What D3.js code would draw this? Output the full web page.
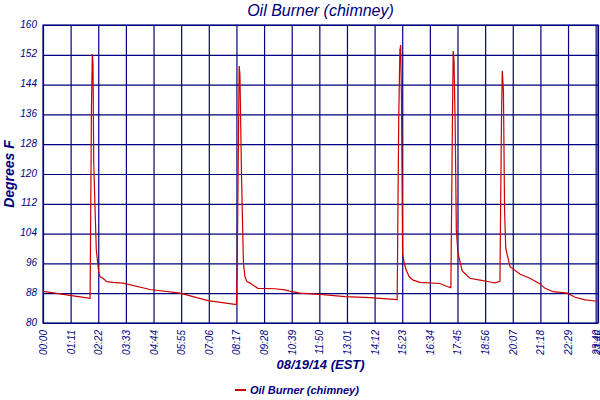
<!DOCTYPE html>
<html>
<head>
<meta charset="utf-8">
<script src="https://d3js.org/d3.v7.min.js"></script>
<style>
  body { margin: 0; background: #fff; }
  text { font-family: "Liberation Sans", Arial, sans-serif; fill: #000080; font-style: italic; }
</style>
</head>
<body>
<div id="chart"></div>
<script>
// readings: minutes after midnight, degrees F
const minutes = [0, 18, 44, 69, 95, 121, 123, 124.5, 126.7, 128.5, 130.3, 133.6, 137, 140.6, 143.1, 146.5,
  154, 164, 180, 206, 275, 352, 424, 493, 497, 499, 504, 506, 510, 515, 519, 524, 532, 552, 596,
  622, 640, 660, 712, 776, 840, 892, 910, 914, 917, 919, 921, 924, 928, 933, 941, 951, 969, 1020,
  1038, 1048, 1052, 1054, 1056, 1059, 1062, 1066, 1077, 1097, 1123, 1149, 1161, 1174, 1178, 1180,
  1183, 1186, 1189, 1200, 1226, 1251, 1277, 1290, 1311, 1347, 1367, 1393, 1418, 1426];
const temps = [88.5, 88.2, 87.8, 87.4, 87.0, 86.6, 115.5, 138, 152.2, 149.6, 123.3, 111.2, 99.6, 96.1, 93.8, 92.4,
  92.0, 91.1, 90.9, 90.7, 89.0, 88.0, 86.0, 85.0, 85.0, 95, 149, 146.8, 120, 96, 92.4, 91.1, 90.7, 89.3, 89.2,
  88.9, 88.4, 88.0, 87.7, 87.1, 86.8, 86.4, 86.3, 135, 153.3, 154.6, 141, 98.7, 96.1, 94.2, 92.4, 91.5, 90.9, 90.6,
  89.8, 89.5, 135, 153, 150.6, 133.7, 105, 99, 94, 92, 91.5, 91.0, 90.8, 91.2, 134.7, 147.7,
  142.5, 110, 100, 95.1, 93.1, 92, 90.5, 89.3, 88.4, 88, 86.9, 86.2, 85.9, 85.9];

const xTicks = [0, 71, 142, 213, 284, 355, 426, 497, 568, 639, 710, 781, 852, 923, 994, 1065, 1136, 1207, 1278, 1349, 1420, 1426];
const yTicks = [80, 88, 96, 104, 112, 120, 128, 136, 144, 152, 160];

const seriesName = "Oil Burner (chimney)";
const xTitle = "08/19/14 (EST)";
const yTitle = "Degrees F";

const width = 600,
    height = 400,
    margin = ({ top: 25, right: 2, bottom: 77, left: 43 });

const navy = "#000080";

const svg = d3.select("#chart")
    .append("svg")
    .attr("width", width)
    .attr("height", height)
    .attr("viewBox", [0, 0, width, height]);

const data = minutes.map((m, i) => ({ m: m, v: temps[i] }));

let x = d3.scaleLinear()
    .domain([0, 1426])
    .range([margin.left, width - margin.right]);

let y = d3.scaleLinear()
    .domain([80, 160])
    .range([height - margin.bottom, margin.top]);

const hhmm = m => String(Math.floor(m / 60)).padStart(2, "0") + ":" + String(m % 60).padStart(2, "0");

// y grid + labels
const yAxis = svg.append("g")
    .attr("transform", `translate(${margin.left},0)`)
    .call(d3.axisLeft(y).tickValues(yTicks).tickSize(-(width - margin.left - margin.right)).tickPadding(6));
yAxis.select(".domain").remove();
yAxis.selectAll("line").attr("stroke", navy).attr("stroke-width", 1.2);
yAxis.selectAll("text")
    .attr("dy", "0.2em")
    .style("font-size", "10px")
    .attr("fill", navy);

// x grid + rotated labels
const xAxis = svg.append("g")
    .attr("transform", `translate(0,${height - margin.bottom})`)
    .call(d3.axisBottom(x).tickValues(xTicks).tickSize(-(height - margin.top - margin.bottom)).tickFormat(hhmm));
xAxis.select(".domain").remove();
xAxis.selectAll("line").attr("stroke", navy).attr("stroke-width", 1.2);
xAxis.selectAll("text")
    .attr("y", 0)
    .attr("x", -7)
    .attr("dy", "0.35em")
    .attr("transform", "rotate(-90)")
    .attr("text-anchor", "end")
    .style("font-size", "10px")
    .attr("fill", navy);

// plot frame
svg.append("rect")
    .attr("x", margin.left)
    .attr("y", margin.top)
    .attr("width", width - margin.left - margin.right)
    .attr("height", height - margin.top - margin.bottom)
    .attr("fill", "none")
    .attr("stroke", navy)
    .attr("stroke-width", 1.2);

let line = d3.line()
    .x(d => x(d.m))
    .y(d => y(d.v));

svg.append("path")
    .datum(data)
    .attr("d", line)
    .attr("fill", "none")
    .attr("stroke", "#cc0000")
    .attr("stroke-width", 1.2);

// titles
svg.append("text")
    .attr("x", (margin.left + width - margin.right) / 2)
    .attr("y", 16)
    .attr("text-anchor", "middle")
    .style("font-size", "16px")
    .text(seriesName);

svg.append("text")
    .attr("x", (margin.left + width - margin.right) / 2)
    .attr("y", 369)
    .attr("text-anchor", "middle")
    .style("font-size", "13px")
    .style("font-weight", "bold")
    .text(xTitle);

svg.append("text")
    .attr("transform", `translate(14,${(margin.top + height - margin.bottom) / 2}) rotate(-90)`)
    .attr("text-anchor", "middle")
    .style("font-size", "14px")
    .style("font-weight", "bold")
    .text(yTitle);

// legend
svg.append("line")
    .attr("x1", 235).attr("x2", 246)
    .attr("y1", 390).attr("y2", 390)
    .attr("stroke", "#cc0000")
    .attr("stroke-width", 2);

svg.append("text")
    .attr("x", 250)
    .attr("y", 394)
    .style("font-size", "11px")
    .style("font-weight", "bold")
    .text(seriesName);
</script>
</body>
</html>
